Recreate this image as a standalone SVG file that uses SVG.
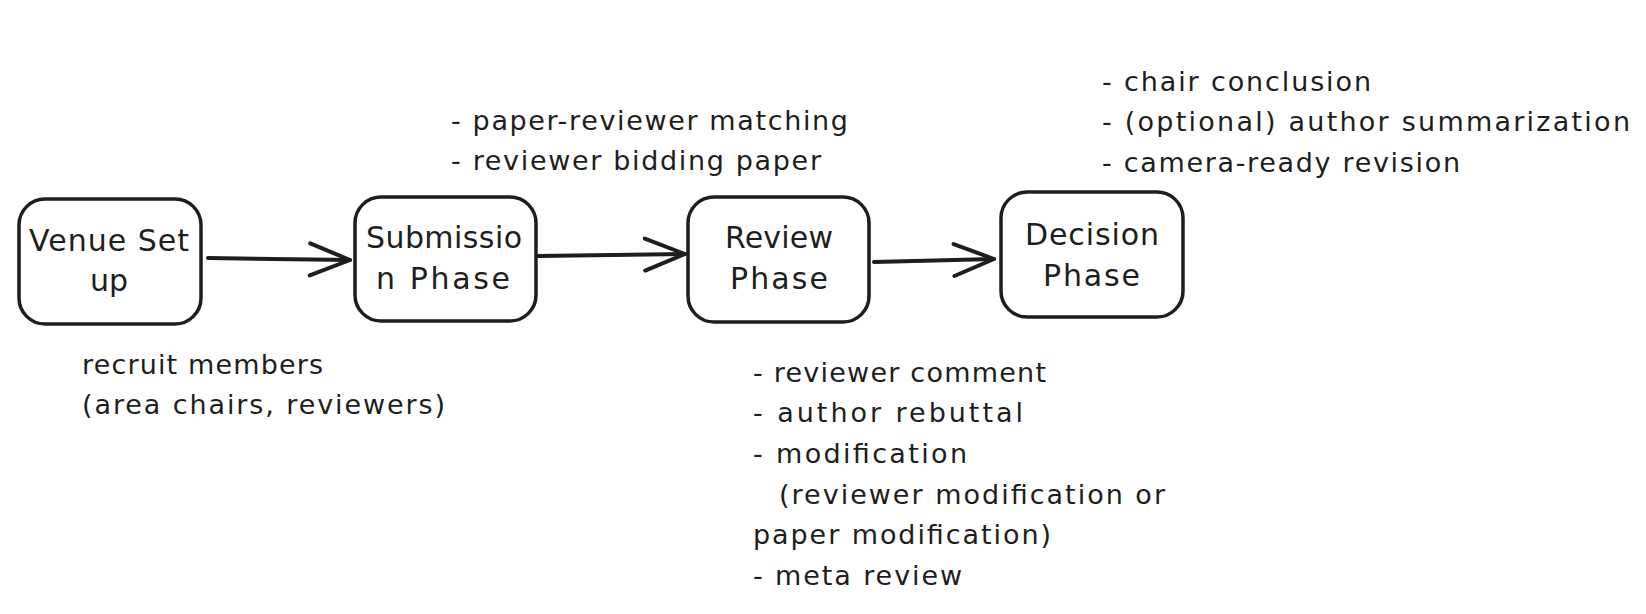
<svg xmlns="http://www.w3.org/2000/svg" width="1646" height="614" viewBox="0 0 1646 614">
<style>
.box{fill:#ffffff;stroke:#1e1e1e;stroke-width:3.5}
.edge{fill:none;stroke:#1e1e1e;stroke-width:4;stroke-linecap:round}
.head{fill:none;stroke:#1e1e1e;stroke-width:4;stroke-linecap:round;stroke-linejoin:round}
.lbl{font-family:"DejaVu Sans","Noto Sans",sans-serif;font-size:30px;fill:#1e1e1e}
.note{font-family:"DejaVu Sans","Noto Sans",sans-serif;font-size:27px;fill:#1e1e1e}
</style>
<defs>
<marker id="arrow" markerUnits="userSpaceOnUse" viewBox="-46 -22 50 44" markerWidth="50" markerHeight="44" refX="0" refY="0" orient="auto">
<path class="head" d="M-40 -16 L0 0 L-40 16"/>
</marker>
</defs>
<rect width="1646" height="614" fill="#ffffff"/>
<g id="connectors">
<path id="e1" class="edge" d="M208 258 L350 260" marker-end="url(#arrow)"/>
<path id="e2" class="edge" d="M538 256 L685 254" marker-end="url(#arrow)"/>
<path id="e3" class="edge" d="M874 262 L994 259" marker-end="url(#arrow)"/>
</g>
<g id="venue">
<rect class="box" x="19" y="199" width="182" height="125" rx="26"/>
<text class="lbl" x="29" y="251" textLength="160" lengthAdjust="spacing">Venue Set</text>
<text class="lbl" x="90" y="291" textLength="38" lengthAdjust="spacing">up</text>
</g>
<g id="submission">
<rect class="box" x="355" y="197" width="181" height="124" rx="26"/>
<text class="lbl" x="366" y="248" textLength="156" lengthAdjust="spacing">Submissio</text>
<text class="lbl" x="376" y="289" textLength="134" lengthAdjust="spacing">n Phase</text>
</g>
<g id="review">
<rect class="box" x="688" y="197" width="181" height="125" rx="26"/>
<text class="lbl" x="725" y="248" textLength="108" lengthAdjust="spacing">Review</text>
<text class="lbl" x="730" y="289" textLength="98" lengthAdjust="spacing">Phase</text>
</g>
<g id="decision">
<rect class="box" x="1001" y="192" width="182" height="125" rx="26"/>
<text class="lbl" x="1025" y="245" textLength="134" lengthAdjust="spacing">Decision</text>
<text class="lbl" x="1043" y="286" textLength="97" lengthAdjust="spacing">Phase</text>
</g>
<g id="notes-submission">
<text class="note" x="451" y="130" textLength="397" lengthAdjust="spacing">- paper-reviewer matching</text>
<text class="note" x="451" y="170" textLength="370" lengthAdjust="spacing">- reviewer bidding paper</text>
</g>
<g id="notes-decision">
<text class="note" x="1102" y="91" textLength="269" lengthAdjust="spacing">- chair conclusion</text>
<text class="note" x="1102" y="131" textLength="528" lengthAdjust="spacing">- (optional) author summarization</text>
<text class="note" x="1102" y="172" textLength="358" lengthAdjust="spacing">- camera-ready revision</text>
</g>
<g id="notes-venue">
<text class="note" x="82" y="374" textLength="241" lengthAdjust="spacing">recruit members</text>
<text class="note" x="82" y="414" textLength="363" lengthAdjust="spacing">(area chairs, reviewers)</text>
</g>
<g id="notes-review">
<text class="note" x="753" y="382" textLength="293" lengthAdjust="spacing">- reviewer comment</text>
<text class="note" x="753" y="422" textLength="270" lengthAdjust="spacing">- author rebuttal</text>
<text class="note" x="753" y="463" textLength="214" lengthAdjust="spacing">- modification</text>
<text class="note" x="779" y="504" textLength="386" lengthAdjust="spacing">(reviewer modification or</text>
<text class="note" x="753" y="544" textLength="298" lengthAdjust="spacing">paper modification)</text>
<text class="note" x="753" y="585" textLength="209" lengthAdjust="spacing">- meta review</text>
</g>
</svg>
